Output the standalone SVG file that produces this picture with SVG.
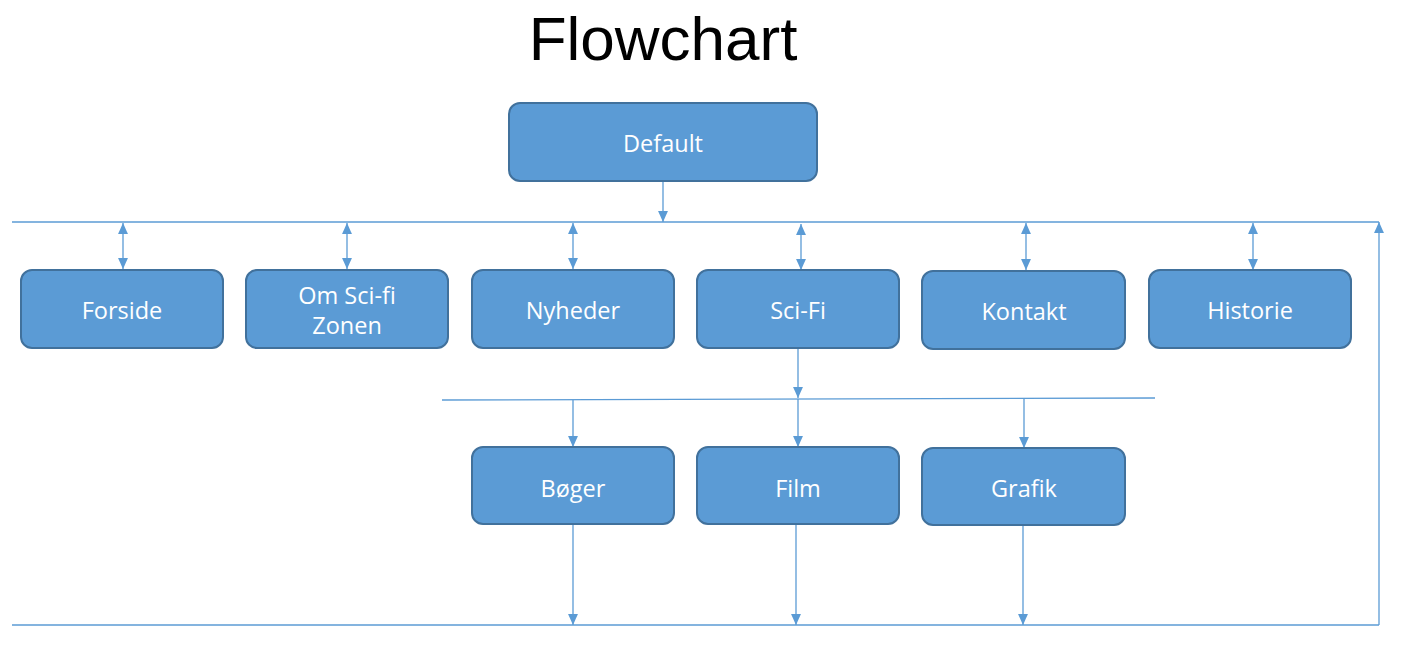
<svg xmlns="http://www.w3.org/2000/svg" width="1409" height="666" viewBox="0 0 1409 666">
<defs>
<marker id="ah" viewBox="0 0 10 10" refX="10" refY="5" markerWidth="11" markerHeight="11" markerUnits="userSpaceOnUse" orient="auto-start-reverse">
<path d="M0,0.5 L10,5 L0,9.5 Z" fill="#5B9BD5"/>
</marker>
</defs>
<style>
.box{fill:#5B9BD5;stroke:#41719C;stroke-width:2}
.lbl{font-family:"Open Sans","Liberation Sans",sans-serif;font-size:23.5px;fill:#FFFFFF;text-anchor:middle}
.ln{stroke:#5B9BD5;stroke-width:1.3;fill:none}
.ar{stroke:#5B9BD5;stroke-width:1.3;fill:none;marker-end:url(#ah)}
.da{stroke:#5B9BD5;stroke-width:1.3;fill:none;marker-end:url(#ah);marker-start:url(#ah)}
</style>
<rect width="1409" height="666" fill="#FFFFFF"/>
<text x="663" y="60" font-family="Liberation Sans, Arial, sans-serif" font-size="62" fill="#000000" text-anchor="middle">Flowchart</text>
<g id="connectors">
<line class="ln" x1="12" y1="222" x2="1379" y2="222"/>
<line class="ar" x1="663" y1="181" x2="663" y2="222"/>
<line class="da" x1="123" y1="223" x2="123" y2="269"/>
<line class="da" x1="347" y1="223" x2="347" y2="269"/>
<line class="da" x1="573" y1="223" x2="573" y2="269"/>
<line class="da" x1="801" y1="224" x2="801" y2="270"/>
<line class="da" x1="1026" y1="223" x2="1026" y2="270"/>
<line class="da" x1="1253" y1="223" x2="1253" y2="270"/>
<line class="ar" x1="798" y1="348" x2="798" y2="398"/>
<line class="ln" x1="442" y1="400" x2="1155" y2="398"/>
<line class="ar" x1="573" y1="400" x2="573" y2="447"/>
<line class="ar" x1="798" y1="399" x2="798" y2="447"/>
<line class="ar" x1="1024" y1="399" x2="1024" y2="448"/>
<line class="ar" x1="573" y1="524" x2="573" y2="625"/>
<line class="ar" x1="796" y1="524" x2="796" y2="625"/>
<line class="ar" x1="1023" y1="525" x2="1023" y2="625"/>
<line class="ln" x1="12" y1="625" x2="1379" y2="625"/>
<line class="ar" x1="1379" y1="625" x2="1379" y2="222"/>
</g>
<g id="default"><rect class="box" x="509" y="103" width="308" height="78" rx="11"/><text class="lbl" x="663" y="152">Default</text></g>
<g id="forside"><rect class="box" x="21" y="270" width="202" height="78" rx="11"/><text class="lbl" x="122" y="319">Forside</text></g>
<g id="omscifi"><rect class="box" x="246" y="270" width="202" height="78" rx="11"/><text class="lbl" x="347" y="304">Om Sci-fi</text><text class="lbl" x="347" y="334">Zonen</text></g>
<g id="nyheder"><rect class="box" x="472" y="270" width="202" height="78" rx="11"/><text class="lbl" x="573" y="319">Nyheder</text></g>
<g id="scifi"><rect class="box" x="697" y="270" width="202" height="78" rx="11"/><text class="lbl" x="798" y="319">Sci-Fi</text></g>
<g id="kontakt"><rect class="box" x="922" y="271" width="203" height="78" rx="11"/><text class="lbl" x="1024" y="320">Kontakt</text></g>
<g id="historie"><rect class="box" x="1149" y="270" width="202" height="78" rx="11"/><text class="lbl" x="1250" y="319">Historie</text></g>
<g id="boger"><rect class="box" x="472" y="447" width="202" height="77" rx="11"/><text class="lbl" x="573" y="497">Bøger</text></g>
<g id="film"><rect class="box" x="697" y="447" width="202" height="77" rx="11"/><text class="lbl" x="798" y="497">Film</text></g>
<g id="grafik"><rect class="box" x="922" y="448" width="203" height="77" rx="11"/><text class="lbl" x="1024" y="497">Grafik</text></g>
</svg>
